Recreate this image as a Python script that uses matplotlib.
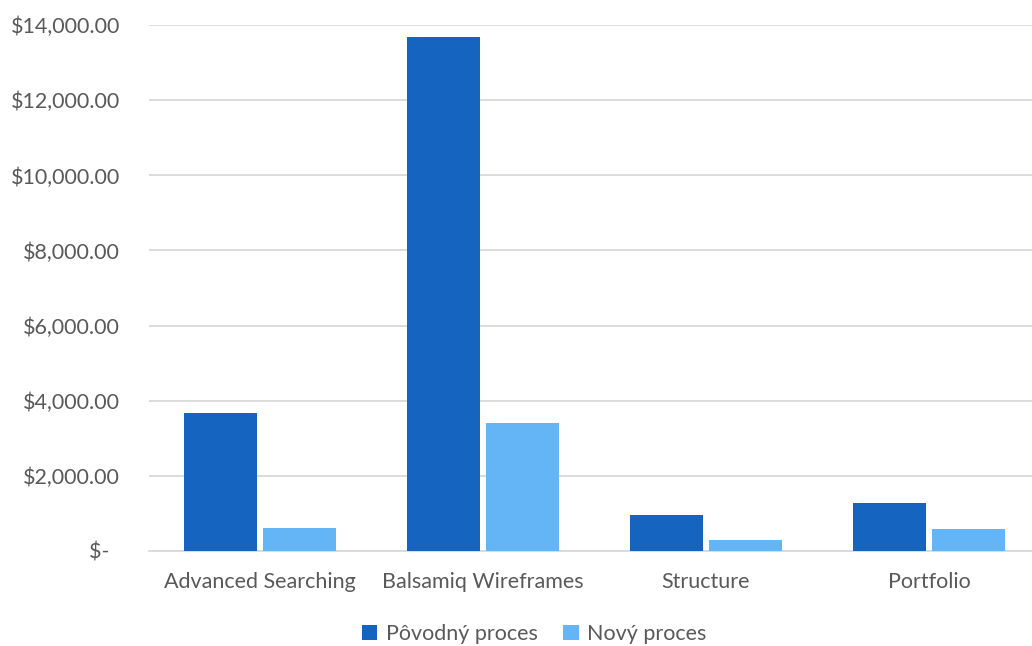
import numpy as np
import matplotlib.pyplot as plt
from matplotlib.ticker import FuncFormatter

plt.rcParams['font.family'] = ['Lato', 'DejaVu Sans']

categories = ['Advanced Searching', 'Balsamiq Wireframes', 'Structure', 'Portfolio']
povodny = [3660, 13700, 950, 1280]
novy = [605, 3410, 293, 580]
series_names = ['Pôvodný proces', 'Nový proces']

dark = '#1565C0'
light = '#64B5F6'
grid_col = '#D9D9D9'
text_col = '#595959'

fig = plt.figure(figsize=(10.32, 6.46), dpi=100)
ax = fig.add_axes([148.5 / 1032, (646 - 550.7) / 646, 1 - 148.5 / 1032, (550.7 - 25.3) / 646])

x = np.arange(len(categories))
w = 0.329
off = 0.178
ax.bar(x - off, povodny, w, color=dark, label=series_names[0], zorder=3)
ax.bar(x + off, novy, w, color=light, label=series_names[1], zorder=3)

ax.set_xlim(-0.5, 3.462)
ax.set_ylim(0, 14000)
ax.set_yticks(np.arange(0, 14001, 2000))

def money(v, pos):
    if v == 0:
        return '$-  '
    return '${:,.2f}'.format(v)

ax.yaxis.set_major_formatter(FuncFormatter(money))
ax.set_xticks(x)
ax.set_xticklabels(categories)

ax.grid(axis='y', color=grid_col, linewidth=1.3, zorder=0)
for s in ['left', 'right', 'top']:
    ax.spines[s].set_visible(False)
ax.spines['bottom'].set_color(grid_col)
ax.spines['bottom'].set_linewidth(1.3)
ax.tick_params(axis='both', length=0, labelsize=15.5, colors=text_col)
ax.tick_params(axis='y', pad=20.5)
ax.tick_params(axis='x', pad=15)

fig.legend(loc='center', bbox_to_anchor=(0.5177, (646 - 634) / 646), ncol=2,
           frameon=False, fontsize=15.5, handlelength=0.7, handleheight=0.7,
           handletextpad=0.4, columnspacing=1.2, labelcolor=text_col)

fig.savefig('out.png', dpi=100)
